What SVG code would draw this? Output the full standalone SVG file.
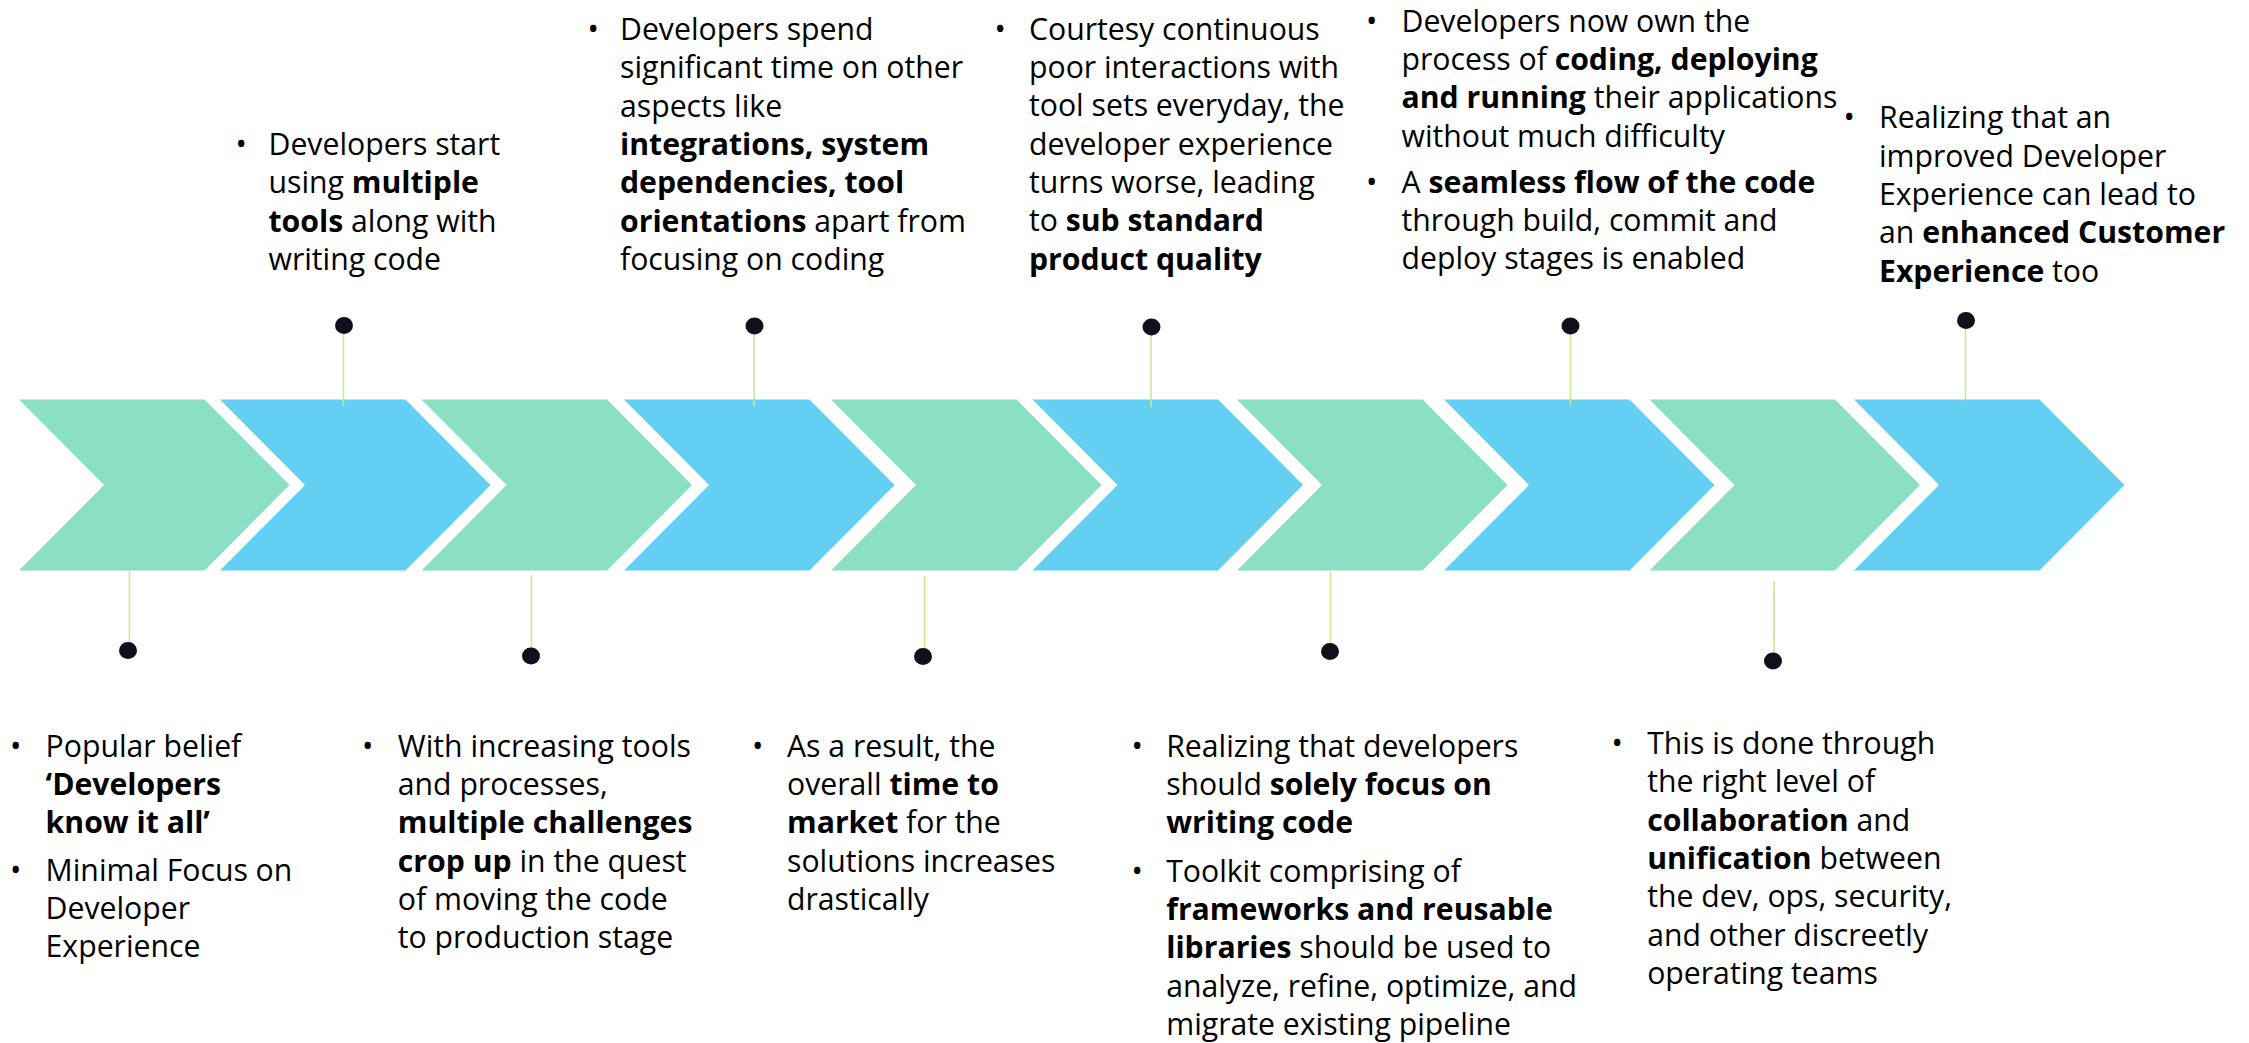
<svg xmlns="http://www.w3.org/2000/svg" width="2249" height="1043" viewBox="0 0 2249 1043">
<style>
.g{fill:#8ADFC4}
.b{fill:#62CFF3}
.ln{stroke:#C5EB8F;stroke-width:1.6;fill:none}
.dot{fill:#10101C}
text{font-family:"Open Sans","Noto Sans","Liberation Sans",sans-serif;font-size:30.2px;fill:#000}
.bd{font-weight:700}
</style>
<defs>
<polygon id="chev" points="0,0 185.5,0 270.5,85.5 185.5,171 0,171 85,85.5"/>
</defs>
<rect width="2249" height="1043" fill="#fff"/>
<g id="chevrons">
<g id="step1"><use href="#chev" class="g" x="19" y="399.5"/></g>
<g id="step2"><use href="#chev" class="b" x="220" y="399.5"/></g>
<g id="step3"><use href="#chev" class="g" x="421.5" y="399.5"/></g>
<g id="step4"><use href="#chev" class="b" x="624" y="399.5"/></g>
<g id="step5"><use href="#chev" class="g" x="831" y="399.5"/></g>
<g id="step6"><use href="#chev" class="b" x="1032.5" y="399.5"/></g>
<g id="step7"><use href="#chev" class="g" x="1237" y="399.5"/></g>
<g id="step8"><use href="#chev" class="b" x="1444" y="399.5"/></g>
<g id="step9"><use href="#chev" class="g" x="1649.5" y="399.5"/></g>
<g id="step10"><use href="#chev" class="b" x="1854" y="399.5"/></g>
</g>
<g id="connectors">
<line class="ln" x1="343.5" y1="330" x2="343.5" y2="406"/>
<line class="ln" x1="754" y1="330" x2="754" y2="406"/>
<line class="ln" x1="1151" y1="330" x2="1151" y2="407"/>
<line class="ln" x1="1570.5" y1="330" x2="1570.5" y2="406"/>
<line class="ln" x1="1965.5" y1="325" x2="1965.5" y2="401"/>
<line class="ln" x1="129.5" y1="570.5" x2="129.5" y2="646"/>
<line class="ln" x1="531.5" y1="575" x2="531.5" y2="651"/>
<line class="ln" x1="924.5" y1="576" x2="924.5" y2="652"/>
<line class="ln" x1="1330.5" y1="571" x2="1330.5" y2="647"/>
<line class="ln" x1="1774" y1="581.5" x2="1774" y2="656"/>
<ellipse class="dot" cx="344" cy="325.5" rx="9" ry="8.5"/>
<ellipse class="dot" cx="754.5" cy="326" rx="9" ry="8.5"/>
<ellipse class="dot" cx="1151.5" cy="327" rx="9" ry="8.5"/>
<ellipse class="dot" cx="1570.5" cy="326" rx="9" ry="8.5"/>
<ellipse class="dot" cx="1966" cy="320.5" rx="9" ry="8.5"/>
<ellipse class="dot" cx="128" cy="650.5" rx="9" ry="8.5"/>
<ellipse class="dot" cx="531" cy="656" rx="9" ry="8.5"/>
<ellipse class="dot" cx="923" cy="656.5" rx="9" ry="8.5"/>
<ellipse class="dot" cx="1330" cy="651.5" rx="9" ry="8.5"/>
<ellipse class="dot" cx="1773" cy="661" rx="9" ry="8.5"/>
</g>
<g id="note1">
<text x="10" y="756.7">•</text>
<text x="45.6" y="756.7">Popular belief</text>
<text x="45.6" y="795" class="bd">‘Developers</text>
<text x="45.6" y="833.3" class="bd">know it all’</text>
<text x="10" y="880.7">•</text>
<text x="45.6" y="880.7">Minimal Focus on</text>
<text x="45.6" y="919">Developer</text>
<text x="45.6" y="957.3">Experience</text>
</g>
<g id="note2">
<text x="235.5" y="155">•</text>
<text x="268.5" y="155">Developers start</text>
<text x="268.5" y="193.3">using <tspan class="bd">multiple</tspan></text>
<text x="268.5" y="231.6"><tspan class="bd">tools</tspan> along with</text>
<text x="268.5" y="270">writing code</text>
</g>
<g id="note3">
<text x="362" y="756.7">•</text>
<text x="397.8" y="756.7">With increasing tools</text>
<text x="397.8" y="795">and processes,</text>
<text x="397.8" y="833.3" class="bd">multiple challenges</text>
<text x="397.8" y="871.7"><tspan class="bd">crop up</tspan> in the quest</text>
<text x="397.8" y="910">of moving the code</text>
<text x="397.8" y="948.3">to production stage</text>
</g>
<g id="note4">
<text x="587.5" y="40">•</text>
<text x="620" y="40">Developers spend</text>
<text x="620" y="78.3">significant time on other</text>
<text x="620" y="116.7">aspects like</text>
<text x="620" y="155" class="bd">integrations, system</text>
<text x="620" y="193.3" class="bd">dependencies, tool</text>
<text x="620" y="231.6"><tspan class="bd">orientations</tspan> apart from</text>
<text x="620" y="270">focusing on coding</text>
</g>
<g id="note5">
<text x="752" y="756.7">•</text>
<text x="787" y="756.7">As a result, the</text>
<text x="787" y="795">overall <tspan class="bd">time to</tspan></text>
<text x="787" y="833.3"><tspan class="bd">market</tspan> for the</text>
<text x="787" y="871.7">solutions increases</text>
<text x="787" y="910">drastically</text>
</g>
<g id="note6">
<text x="994.5" y="39.5">•</text>
<text x="1029" y="39.5">Courtesy continuous</text>
<text x="1029" y="77.8">poor interactions with</text>
<text x="1029" y="116.2">tool sets everyday, the</text>
<text x="1029" y="154.5">developer experience</text>
<text x="1029" y="192.8">turns worse, leading</text>
<text x="1029" y="231.1">to <tspan class="bd">sub standard</tspan></text>
<text x="1029" y="269.5" class="bd">product quality</text>
</g>
<g id="note7">
<text x="1131.5" y="756.7">•</text>
<text x="1166.2" y="756.7">Realizing that developers</text>
<text x="1166.2" y="795">should <tspan class="bd">solely focus on</tspan></text>
<text x="1166.2" y="833.3" class="bd">writing code</text>
<text x="1131.5" y="881.7">•</text>
<text x="1166.2" y="881.7">Toolkit comprising of</text>
<text x="1166.2" y="920" class="bd">frameworks and reusable</text>
<text x="1166.2" y="958.3"><tspan class="bd">libraries</tspan> should be used to</text>
<text x="1166.2" y="996.7">analyze, refine, optimize, and</text>
<text x="1166.2" y="1035">migrate existing pipeline</text>
</g>
<g id="note8">
<text x="1366" y="31.7">•</text>
<text x="1401.5" y="31.7">Developers now own the</text>
<text x="1401.5" y="70">process of <tspan class="bd">coding, deploying</tspan></text>
<text x="1401.5" y="108.3"><tspan class="bd">and running</tspan> their applications</text>
<text x="1401.5" y="146.7">without much difficulty</text>
<text x="1366" y="192.7">•</text>
<text x="1401.5" y="192.7">A <tspan class="bd">seamless flow of the code</tspan></text>
<text x="1401.5" y="231">through build, commit and</text>
<text x="1401.5" y="269.3">deploy stages is enabled</text>
</g>
<g id="note9">
<text x="1611.5" y="754">•</text>
<text x="1647.2" y="754">This is done through</text>
<text x="1647.2" y="792.3">the right level of</text>
<text x="1647.2" y="830.7"><tspan class="bd">collaboration</tspan> and</text>
<text x="1647.2" y="869"><tspan class="bd">unification</tspan> between</text>
<text x="1647.2" y="907.3">the dev, ops, security,</text>
<text x="1647.2" y="945.7">and other discreetly</text>
<text x="1647.2" y="984">operating teams</text>
</g>
<g id="note10">
<text x="1843.5" y="128.3">•</text>
<text x="1879" y="128.3">Realizing that an</text>
<text x="1879" y="166.7">improved Developer</text>
<text x="1879" y="205">Experience can lead to</text>
<text x="1879" y="243.3">an <tspan class="bd">enhanced Customer</tspan></text>
<text x="1879" y="281.7"><tspan class="bd">Experience</tspan> too</text>
</g>
</svg>
